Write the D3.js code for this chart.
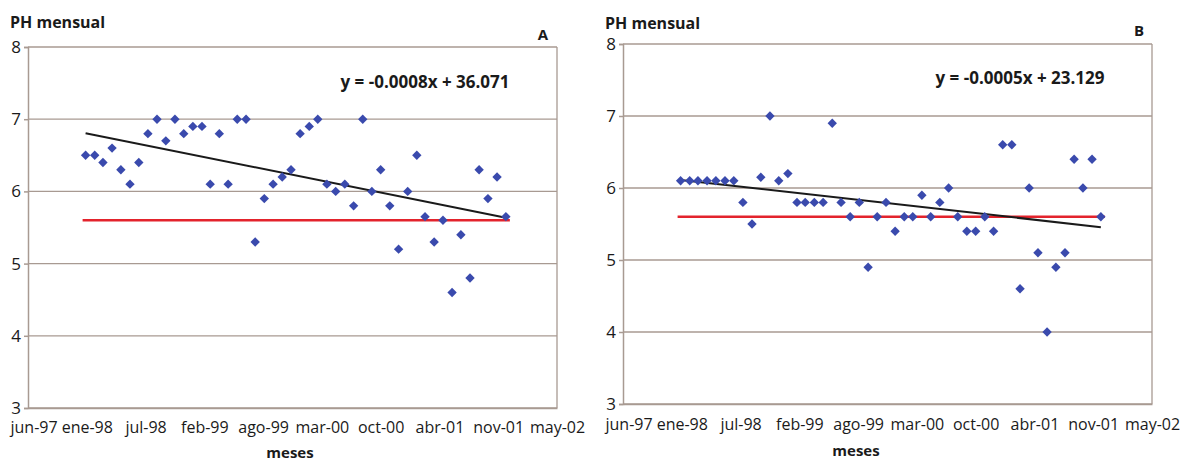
<!DOCTYPE html>
<html>
<head>
<meta charset="utf-8">
<script src="https://cdn.jsdelivr.net/npm/d3@7"></script>
<style>
body{margin:0;background:#fff;}
svg text{font-family:"Open Sans",sans-serif;fill:#1a1a1a;}
</style>
</head>
<body>
<div id="chart"></div>
<script>
let width = 1184;
let height = 461;

// eje de fechas (Excel: unidad mayor 200 dias)
let axisStart = new Date(1997, 5, 19);
let axisStepDays = 200;
let tickLabels = ["jun-97","ene-98","jul-98","feb-99","ago-99","mar-00","oct-00","abr-01","nov-01","may-02"];
let yTicks = [3, 4, 5, 6, 7, 8];
let limitePH = 5.6;

// un valor por mes, ene-98 .. dic-01
let meses = d3.timeMonth.range(new Date(1998, 0, 1), new Date(2002, 0, 1));

let phA = [6.5, 6.5, 6.4, 6.6, 6.3, 6.1, 6.4, 6.8, 7.0, 6.7, 7.0, 6.8, 6.9, 6.9, 6.1, 6.8,
           6.1, 7.0, 7.0, 5.3, 5.9, 6.1, 6.2, 6.3, 6.8, 6.9, 7.0, 6.1, 6.0, 6.1, 5.8, 7.0,
           6.0, 6.3, 5.8, 5.2, 6.0, 6.5, 5.65, 5.3, 5.6, 4.6, 5.4, 4.8, 6.3, 5.9, 6.2, 5.65];
let phB = [6.1, 6.1, 6.1, 6.1, 6.1, 6.1, 6.1, 5.8, 5.5, 6.15, 7.0, 6.1, 6.2, 5.8, 5.8, 5.8,
           5.8, 6.9, 5.8, 5.6, 5.8, 4.9, 5.6, 5.8, 5.4, 5.6, 5.6, 5.9, 5.6, 5.8, 6.0, 5.6,
           5.4, 5.4, 5.6, 5.4, 6.6, 6.6, 4.6, 6.0, 5.1, 4.0, 4.9, 5.1, 6.4, 6.0, 6.4, 5.6];

let ecuacionA = "y = -0.0008x + 36.071";
let ecuacionB = "y = -0.0005x + 23.129";

let gridColor = "#a89a92";
let markColor = "#3a4aad";

let svg = d3.select("#chart").append("svg")
  .attr("width", width)
  .attr("height", height);

function drawChart(c) {
  const g = svg.append("g");
  const tickDates = tickLabels.map((t, i) => d3.timeDay.offset(axisStart, i * axisStepDays));

  const x = d3.scaleTime()
    .domain([tickDates[0], tickDates[tickDates.length - 1]])
    .range([c.left, c.right]);
  const y = d3.scaleLinear().domain([3, 8]).range([c.bottom, c.top]);

  // lineas horizontales
  g.append("g").selectAll("line")
    .data(yTicks)
    .enter()
    .append("line")
    .attr("x1", c.left)
    .attr("x2", c.right)
    .attr("y1", d => y(d))
    .attr("y2", d => y(d))
    .attr("stroke", gridColor)
    .attr("stroke-width", 1.3);

  // borde derecho
  g.append("line")
    .attr("x1", c.right).attr("x2", c.right)
    .attr("y1", c.top).attr("y2", c.bottom)
    .attr("stroke", gridColor).attr("stroke-width", 1.3);

  const yAxis = g.append("g")
    .attr("transform", "translate(" + c.left + ",0)")
    .call(d3.axisLeft(y).tickValues(yTicks).tickSize(4).tickPadding(3).tickFormat(d3.format("d")));
  yAxis.selectAll("path,line").attr("stroke", gridColor).attr("stroke-width", 1.5);
  yAxis.selectAll("text").attr("font-size", 17).attr("font-family", null).attr("fill", "#1a1a1a");

  const xAxis = g.append("g")
    .attr("transform", "translate(0," + c.bottom + ")")
    .call(d3.axisBottom(x).tickValues(tickDates).tickSize(0).tickPadding(c.xPad)
      .tickFormat((d, i) => tickLabels[i]));
  xAxis.select(".domain").attr("stroke", gridColor).attr("stroke-width", 1.5);
  xAxis.selectAll("text").attr("font-size", 16).attr("font-family", null).attr("fill", "#1a1a1a");

  // como Excel: la primera etiqueta no sale del area del grafico
  xAxis.selectAll("text").each(function(d, i) {
    if (i > 0) return;
    const w = this.getComputedTextLength();
    const leftEdge = x(d) - w / 2;
    if (leftEdge < c.titleX) d3.select(this).attr("dx", c.titleX - leftEdge);
  });

  // limite 5.6
  g.append("line")
    .attr("x1", x(meses[0]) - 3)
    .attr("x2", x(meses[meses.length - 1]) + 4)
    .attr("y1", y(limitePH))
    .attr("y2", y(limitePH))
    .attr("stroke", "#e3232c")
    .attr("stroke-width", 2.5);

  // tendencia lineal (minimos cuadrados)
  const pts = c.values.map((v, i) => [+meses[i], v]);
  const mx = d3.mean(pts, p => p[0]);
  const my = d3.mean(pts, p => p[1]);
  const b = d3.sum(pts, p => (p[0] - mx) * (p[1] - my)) / d3.sum(pts, p => (p[0] - mx) * (p[0] - mx));
  const a = my - b * mx;
  const t0 = +meses[0], t1 = +meses[meses.length - 1];
  g.append("line")
    .attr("x1", x(t0)).attr("y1", y(a + b * t0))
    .attr("x2", x(t1)).attr("y2", y(a + b * t1))
    .attr("stroke", "#1a1a1a")
    .attr("stroke-width", 2);

  g.append("g").selectAll("path")
    .data(c.values)
    .enter()
    .append("path")
    .attr("d", d3.symbol(d3.symbolSquare, 44))
    .attr("transform", (d, i) => "translate(" + x(meses[i]) + "," + y(d) + ") rotate(45)")
    .attr("fill", markColor);

  g.append("text")
    .attr("x", c.titleX).attr("y", c.titleY)
    .attr("font-size", 16).attr("font-weight", "bold")
    .text("PH mensual");

  g.append("text")
    .attr("x", c.letterX).attr("y", c.letterY)
    .attr("text-anchor", "middle")
    .attr("font-size", 15).attr("font-weight", "bold")
    .text(c.letter);

  g.append("text")
    .attr("x", c.eqX).attr("y", c.eqY)
    .attr("text-anchor", "middle")
    .attr("font-size", 17).attr("font-weight", "bold")
    .text(c.equation);

  g.append("text")
    .attr("x", c.mesesX).attr("y", c.mesesY)
    .attr("text-anchor", "middle")
    .attr("font-size", 15).attr("font-weight", "bold")
    .text("meses");
}

drawChart({values: phA, letter: "A", equation: ecuacionA,
  left: 28, right: 557, top: 47, bottom: 408, xPad: 14,
  titleX: 10, titleY: 28, letterX: 543, letterY: 40,
  eqX: 425, eqY: 88, mesesX: 290, mesesY: 458});

drawChart({values: phB, letter: "B", equation: ecuacionB,
  left: 623, right: 1152, top: 44, bottom: 404, xPad: 15,
  titleX: 605, titleY: 29, letterX: 1139, letterY: 36,
  eqX: 1020, eqY: 84, mesesX: 856, mesesY: 456});
</script>
</body>
</html>
